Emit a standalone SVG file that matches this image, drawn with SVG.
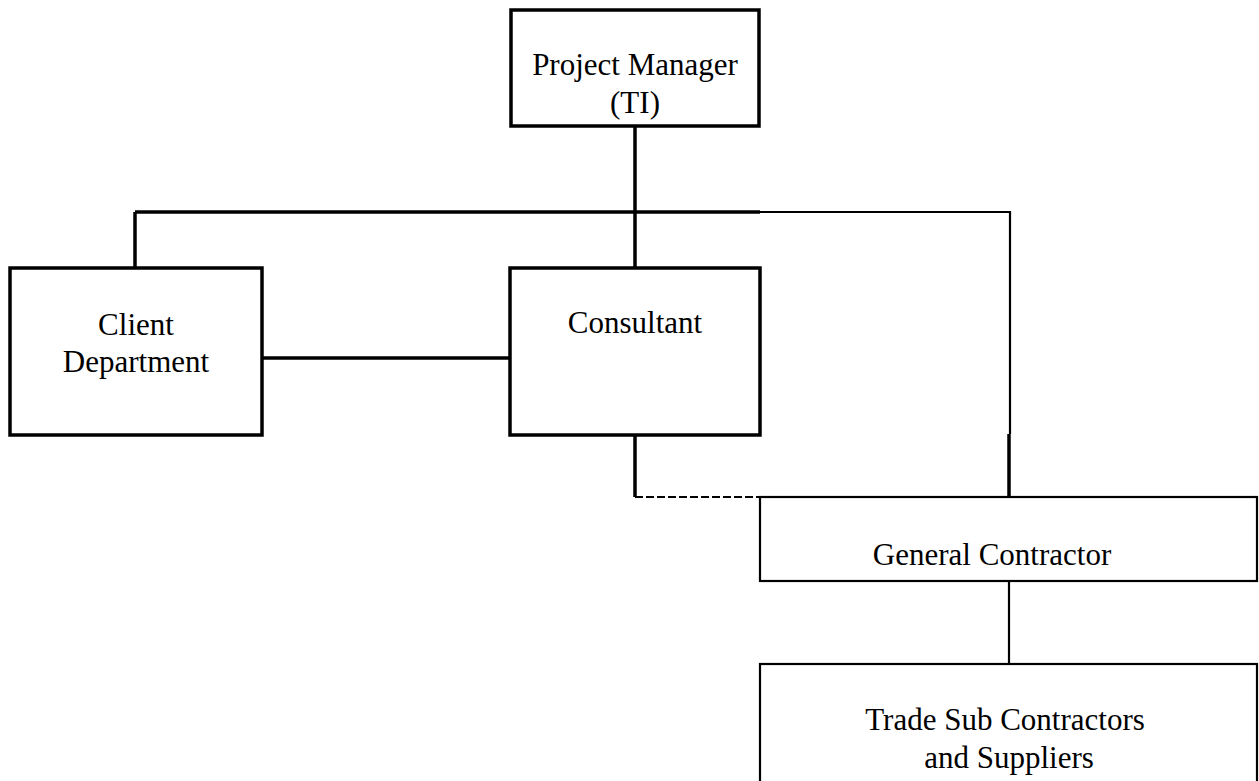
<svg xmlns="http://www.w3.org/2000/svg" width="1259" height="781" viewBox="0 0 1259 781">
<style>
.box{fill:#fff;stroke:#000;stroke-width:3.5}
.thin{fill:#fff;stroke:#000;stroke-width:2.2}
.lbl{font-family:"Liberation Serif","Times New Roman",serif;font-size:31px;fill:#000;text-anchor:middle}
.c{stroke:#000;fill:none;stroke-width:3.5}
.ct{stroke:#000;fill:none;stroke-width:2.2}
.d{stroke:#000;fill:none;stroke-width:2.2;stroke-dasharray:8 3}
</style>
<rect width="1259" height="781" fill="#fff"/>
<g id="connectors">
<line class="c" x1="635" y1="126" x2="635" y2="267"/>
<line class="c" x1="135" y1="212" x2="760" y2="212"/>
<line class="ct" x1="760" y1="212" x2="1010" y2="212"/>
<line class="ct" x1="1010" y1="211" x2="1010" y2="434"/>
<line class="c" x1="1009" y1="434" x2="1009" y2="497"/>
<line class="c" x1="135" y1="212" x2="135" y2="267"/>
<line class="c" x1="262" y1="358" x2="510" y2="358"/>
<polyline class="c" points="635,435 635,497"/>
<line class="d" x1="635" y1="497" x2="760" y2="497"/>
<line class="ct" x1="1009" y1="581" x2="1009" y2="664"/>
</g>
<g id="project-manager">
<rect class="box" x="511" y="10" width="248" height="116"/>
<text class="lbl" x="635" y="75">Project Manager</text>
<text class="lbl" x="635" y="113">(TI)</text>
</g>
<g id="client-department">
<rect class="box" x="10" y="268" width="252" height="167"/>
<text class="lbl" x="136" y="335">Client</text>
<text class="lbl" x="136" y="372">Department</text>
</g>
<g id="consultant">
<rect class="box" x="510" y="268" width="250" height="167"/>
<text class="lbl" x="635" y="333">Consultant</text>
</g>
<g id="general-contractor">
<rect class="thin" x="760" y="497" width="497" height="84"/>
<text class="lbl" x="992" y="565">General Contractor</text>
</g>
<g id="trade-sub-contractors">
<rect class="thin" x="760" y="664" width="497" height="130"/>
<text class="lbl" x="1005" y="730">Trade Sub Contractors</text>
<text class="lbl" x="1009" y="768">and Suppliers</text>
</g>
</svg>
